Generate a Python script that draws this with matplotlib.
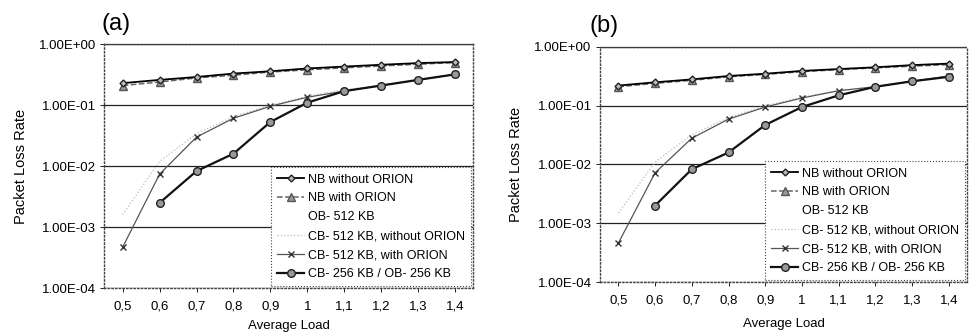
import matplotlib
matplotlib.use("Agg")
import matplotlib.pyplot as plt
from matplotlib.lines import Line2D
import numpy as np

plt.rcParams["font.family"] = ["Liberation Sans", "DejaVu Sans"]

loads = ["0,5", "0,6", "0,7", "0,8", "0,9", "1", "1,1", "1,2", "1,3", "1,4"]
ytick_labels = ["1.00E-04", "1.00E-03", "1.00E-02", "1.00E-01", "1.00E+00"]

# panel (a)
a_nb_without = [0.23, 0.26, 0.29, 0.33, 0.36, 0.40, 0.43, 0.46, 0.49, 0.51]
a_nb_with = [0.21, 0.24, 0.28, 0.31, 0.35, 0.38, 0.41, 0.44, 0.47, 0.50]
a_cb512_without = [1.6e-3, 1.2e-2, 3.4e-2, 0.065, 0.10, 0.14, 0.18, 0.21, 0.26, 0.32]
a_cb512_with = [4.7e-4, 7.4e-3, 0.030, 0.061, 0.096, 0.135, 0.17, 0.21, 0.26, 0.32]
a_cb256 = [np.nan, 2.5e-3, 8.3e-3, 0.016, 0.053, 0.11, 0.17, 0.21, 0.26, 0.32]

# panel (b)
b_nb_without = [0.22, 0.25, 0.28, 0.32, 0.35, 0.39, 0.42, 0.45, 0.49, 0.52]
b_nb_with = [0.21, 0.24, 0.27, 0.31, 0.34, 0.38, 0.41, 0.44, 0.47, 0.50]
b_cb512_without = [1.5e-3, 1.1e-2, 3.2e-2, 0.063, 0.10, 0.14, 0.18, 0.21, 0.26, 0.32]
b_cb512_with = [4.6e-4, 7.2e-3, 0.028, 0.059, 0.095, 0.135, 0.18, 0.21, 0.26, 0.32]
b_cb256 = [np.nan, 2.0e-3, 8.3e-3, 0.016, 0.047, 0.095, 0.15, 0.21, 0.26, 0.31]

legend_labels = [
    "NB without ORION",
    "NB with ORION",
    "OB- 512 KB",
    "CB- 512 KB, without ORION",
    "CB- 512 KB, with ORION",
    "CB- 256 KB / OB- 256 KB",
]


def draw_panel(ax, nb_without, nb_with, cb512_without, cb512_with, cb256, xpad):
    x = np.arange(len(loads))
    h1, = ax.plot(x, nb_without, color="black", lw=1.3, marker="D", ms=3.5,
                  mfc="#bbbbbb", mec="#222222", zorder=4)
    h2, = ax.plot(x, nb_with, color="#666666", lw=1.1, ls="--", marker="^", ms=5.5,
                  mfc="#999999", mec="#555555", zorder=3)
    h3 = Line2D([], [], color="none")
    h4, = ax.plot(x, cb512_without, color="#bbbbbb", lw=0.9, ls=":", zorder=2)
    h5, = ax.plot(x, cb512_with, color="#555555", lw=0.9, marker="x", ms=4.5,
                  mec="#333333", zorder=3)
    h6, = ax.plot(x, cb256, color="#111111", lw=1.6, marker="o", ms=5.5,
                  mfc="#999999", mec="#222222", zorder=4)

    ax.set_yscale("log")
    ax.set_ylim(1e-4, 1)
    ax.set_xlim(-0.5, len(loads) - 0.5)
    ax.set_xticks(x)
    ax.set_xticklabels(loads, fontsize=9.5)
    ax.set_yticks([1e-4, 1e-3, 1e-2, 1e-1, 1])
    ax.set_yticklabels(ytick_labels, fontsize=9.5)
    ax.minorticks_off()
    ax.tick_params(axis="x", length=3, width=0.6, pad=6)
    ax.tick_params(axis="y", length=3, width=0.6, pad=3)
    ax.grid(axis="y", color="#222222", lw=0.9)
    for s in ax.spines.values():
        s.set_linestyle(":")
        s.set_color("#444444")
        s.set_linewidth(1.0)
    ax.set_xlabel("Average Load", fontsize=9.5, labelpad=xpad)
    ax.set_ylabel("Packet Loss Rate", fontsize=10.5, labelpad=8)

    leg = ax.legend([h1, h2, h3, h4, h5, h6], legend_labels, loc="lower right",
                    fontsize=9, frameon=True, fancybox=False, handlelength=2.2,
                    borderaxespad=0.15, labelspacing=0.55, borderpad=0.5,
                    handletextpad=0.3)
    fr = leg.get_frame()
    fr.set_edgecolor("#444444")
    fr.set_linewidth(0.8)
    fr.set_linestyle(":")
    fr.set_alpha(1)


fig = plt.figure(figsize=(9.74, 3.35), dpi=100)
ax_a = fig.add_axes([0.107, 0.140, 0.379, 0.728])
ax_b = fig.add_axes([0.616, 0.158, 0.377, 0.702])

draw_panel(ax_a, a_nb_without, a_nb_with, a_cb512_without, a_cb512_with, a_cb256, 5)
draw_panel(ax_b, b_nb_without, b_nb_with, b_cb512_without, b_cb512_with, b_cb256, 8)

fig.text(0.104, 0.927, "(a)", fontsize=17, ha="left", va="center")
fig.text(0.605, 0.922, "(b)", fontsize=17, ha="left", va="center")

fig.savefig("out.png", dpi=100)
